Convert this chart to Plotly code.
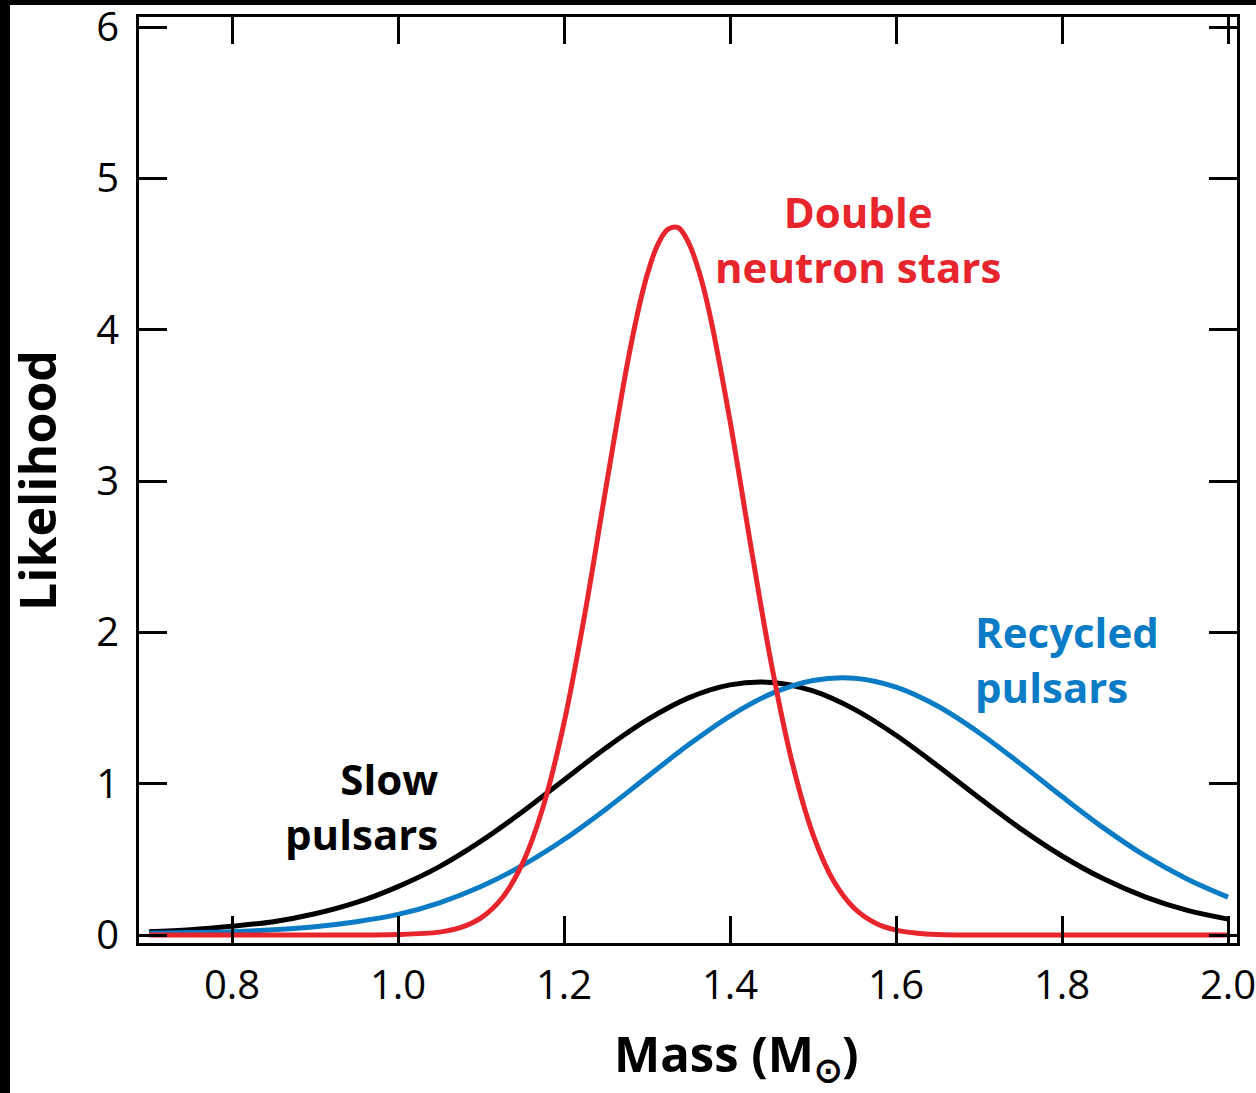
import plotly.graph_objects as go

# Mass grid (solar masses)
mass_red = [0.70, 0.80, 0.90, 1.00, 1.05, 1.075, 1.10, 1.125, 1.15, 1.175, 1.20, 1.225, 1.25,
            1.275, 1.2875, 1.30, 1.3125, 1.325, 1.3375, 1.35, 1.3625, 1.375, 1.40, 1.425, 1.45,
            1.475, 1.50, 1.525, 1.55, 1.575, 1.60, 1.625, 1.65, 1.70, 1.80, 1.90, 2.00]
double_ns = [0.0, 0.0, 0.0, 0.003, 0.019, 0.048, 0.113, 0.241, 0.473, 0.850, 1.401, 2.120, 2.939,
             3.737, 4.080, 4.360, 4.558, 4.664, 4.675, 4.576, 4.388, 4.117, 3.398, 2.573, 1.786,
             1.137, 0.664, 0.355, 0.175, 0.079, 0.032, 0.012, 0.004, 0.0, 0.0, 0.0, 0.0]

mass = [0.70, 0.75, 0.80, 0.85, 0.90, 0.95, 1.00, 1.05, 1.10, 1.15, 1.20, 1.25, 1.30, 1.35,
        1.40, 1.45, 1.50, 1.55, 1.60, 1.65, 1.70, 1.75, 1.80, 1.85, 1.90, 1.95, 2.00]
slow_pulsars = [0.022, 0.035, 0.058, 0.088, 0.140, 0.215, 0.320, 0.452, 0.620, 0.815, 1.025,
                1.234, 1.421, 1.567, 1.653, 1.669, 1.613, 1.491, 1.320, 1.118, 0.907, 0.703,
                0.522, 0.371, 0.252, 0.164, 0.105]
recycled_pulsars = [0.012, 0.016, 0.022, 0.035, 0.055, 0.088, 0.136, 0.213, 0.320, 0.460, 0.631,
                    0.830, 1.044, 1.257, 1.447, 1.595, 1.682, 1.697, 1.638, 1.513, 1.337, 1.131,
                    0.915, 0.708, 0.524, 0.372, 0.250]

x_ticks = [0.8, 1.0, 1.2, 1.4, 1.6, 1.8, 2.0]
x_ticklabels = ["0.8", "1.0", "1.2", "1.4", "1.6", "1.8", "2.0"]
y_ticks = [0, 1, 2, 3, 4, 5, 6]
y_ticklabels = ["0", "1", "2", "3", "4", "5", "6"]

RED = "#e8242c"
BLUE = "#0a7cc6"
BLACK = "#000000"

fig = go.Figure()
fig.add_trace(go.Scatter(x=mass, y=slow_pulsars, mode="lines",
                         line=dict(color=BLACK, width=5, shape="spline"), name="Slow pulsars"))
fig.add_trace(go.Scatter(x=mass, y=recycled_pulsars, mode="lines",
                         line=dict(color=BLUE, width=5, shape="spline"), name="Recycled pulsars"))
fig.add_trace(go.Scatter(x=mass_red, y=double_ns, mode="lines",
                         line=dict(color=RED, width=5, shape="spline"),
                         name="Double neutron stars"))

tickfont = dict(family="Open Sans", size=40, color="black")
fig.update_xaxes(range=[0.68795, 2.0108], tickvals=x_ticks, ticktext=x_ticklabels,
                 ticks="inside", ticklen=27, tickwidth=3, tickcolor="black",
                 showline=True, linewidth=3, linecolor="black", mirror="ticks",
                 showgrid=False, zeroline=False, tickfont=tickfont, ticklabelstandoff=5,
                 ticklabeloverflow="allow", automargin=False)
fig.update_yaxes(range=[-0.0529, 6.067], tickvals=y_ticks, ticktext=y_ticklabels,
                 ticks="inside", ticklen=28, tickwidth=3, tickcolor="black",
                 showline=True, linewidth=3, linecolor="black", mirror="ticks",
                 showgrid=False, zeroline=False, tickfont=tickfont, ticklabelstandoff=9,
                 ticklabeloverflow="allow", automargin=False)

annfont = dict(family="Open Sans", size=42)


def label(x, y, text, color, anchor):
    return dict(x=x, y=y, xref="x", yref="y", text="<b>" + text + "</b>",
                showarrow=False, xanchor=anchor, yanchor="middle", align=anchor,
                font=dict(annfont, color=color))


annotations = [
    label(1.554, 4.60, "Double<br>neutron stars", RED, "center"),
    label(1.6928, 1.827, "Recycled<br>pulsars", BLUE, "left"),
    label(1.0506, 0.853, "Slow<br>pulsars", BLACK, "right"),
    dict(x=-0.0929, y=0.5, xref="paper", yref="paper", text="<b>Likelihood</b>",
         showarrow=False, textangle=-90, xanchor="center", yanchor="middle",
         font=dict(family="Open Sans", size=50, color="black")),
    dict(x=(736 - 139) / 1098, y=(943 - 1056) / 926, xref="paper", yref="paper",
         text="<b>Mass (M<sub>⊙</sub>)</b>",
         showarrow=False, xanchor="center", yanchor="middle",
         font=dict(family="Open Sans", size=49, color="black")),
]

shapes = [
    dict(type="rect", xref="paper", yref="paper", x0=-139 / 1098, x1=(1256 - 139) / 1098,
         y0=(943 - 5) / 926, y1=943 / 926, fillcolor="black", line=dict(width=0), layer="below"),
    dict(type="rect", xref="paper", yref="paper", x0=-139 / 1098, x1=(10 - 139) / 1098,
         y0=(943 - 1093) / 926, y1=943 / 926, fillcolor="black", line=dict(width=0), layer="below"),
]

fig.update_layout(width=1256, height=1093, autosize=False,
                  margin=dict(l=139, r=19, t=17, b=150),
                  plot_bgcolor="white", paper_bgcolor="white",
                  showlegend=False, annotations=annotations, shapes=shapes)

fig.write_html("out.html")
